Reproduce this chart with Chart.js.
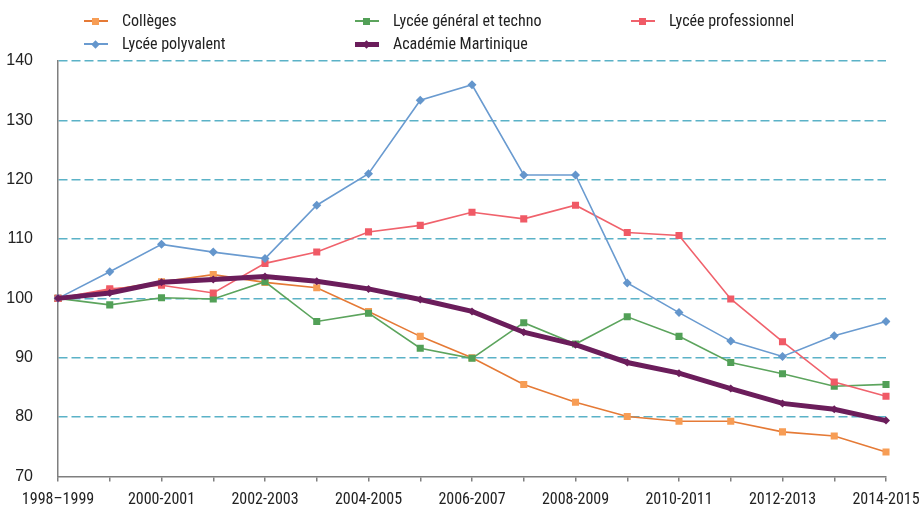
<!DOCTYPE html>
<html>
<head>
<meta charset="utf-8">
<script src="https://cdn.jsdelivr.net/npm/chart.js@4"></script>
<style>
  body { margin: 0; background: #fff; }
  #wrap { position: relative; width: 923px; height: 511px; }
  #legend { position: absolute; left: 0; top: 0; width: 923px; height: 60px;
            font-family: Roboto, sans-serif; font-stretch: condensed; font-size: 16px; color: #222; }
  .item { position: absolute; height: 20px; line-height: 20px; white-space: nowrap; }
  .sym { position: absolute; left: -38px; top: 10px; width: 24px; }
  .mk { position: absolute; left: 8px; }
</style>
</head>
<body>
<div id="wrap">
  <canvas id="chart" width="923" height="511"></canvas>
  <div id="legend"></div>
</div>
<script>
var years = ["1998–1999", "1999-2000", "2000-2001", "2001-2002", "2002-2003", "2003-2004", "2004-2005",
    "2005-2006", "2006-2007", "2007-2008", "2008-2009", "2009-2010", "2010-2011", "2011-2012",
    "2012-2013", "2013-2014", "2014-2015"];

var colleges = [100, 101.4, 102.8, 104.0, 102.7, 101.8, 97.8, 93.6, 90.0, 85.5, 82.5, 80.1, 79.3, 79.3, 77.5, 76.8, 74.1];
var lyceeGeneral = [100, 98.9, 100.1, 99.9, 102.8, 96.1, 97.5, 91.6, 89.9, 95.9, 92.3, 96.9, 93.6, 89.2, 87.3, 85.2, 85.5];
var lyceePro = [100, 101.6, 102.2, 100.9, 105.9, 107.8, 111.2, 112.3, 114.5, 113.4, 115.7, 111.1, 110.6, 99.9, 92.7, 85.9, 83.5];
var lyceePoly = [100, 104.5, 109.1, 107.8, 106.7, 115.7, 121.0, 133.4, 136.0, 120.8, 120.8, 102.6, 97.6, 92.8, 90.2, 93.7, 96.1];
var academie = [100, 100.9, 102.7, 103.2, 103.7, 102.9, 101.6, 99.8, 97.8, 94.3, 92.2, 89.2, 87.4, 84.8, 82.3, 81.3, 79.4];

var series = [
    { label: "Collèges", data: colleges, line: "#e57a36", fill: "#f79d55", style: "rect", r: 5, w: 1.6, order: 4 },
    { label: "Lycée général et techno", data: lyceeGeneral, line: "#5ca45d", fill: "#52a057", style: "rect", r: 5, w: 1.6, order: 3 },
    { label: "Lycée professionnel", data: lyceePro, line: "#f0626c", fill: "#f05a66", style: "rect", r: 5, w: 1.6, order: 2 },
    { label: "Lycée polyvalent", data: lyceePoly, line: "#6a9bd0", fill: "#6496cc", style: "rectRot", r: 4.5, w: 1.6, order: 1 },
    { label: "Académie Martinique", data: academie, line: "#6b1d5b", fill: "#6b1d5b", style: "rectRot", r: 4, w: 5, order: 0 }
];

// legend in the same 3-column grid as the original
var legendPos = [[122, 11], [393, 11], [669, 11], [122, 34], [393, 34]];
var legend = document.getElementById("legend");
series.forEach(function (s, k) {
    var item = document.createElement("div");
    item.className = "item";
    item.style.left = legendPos[k][0] + "px";
    item.style.top = legendPos[k][1] + "px";
    var thick = s.w > 2 ? 5 : 2;
    var sym = document.createElement("div");
    sym.className = "sym";
    sym.style.height = thick + "px";
    sym.style.marginTop = (-thick / 2) + "px";
    sym.style.background = s.line;
    var mk = document.createElement("div");
    mk.className = "mk";
    mk.style.width = "7px";
    mk.style.height = "7px";
    mk.style.top = (thick / 2 - 3.5) + "px";
    mk.style.background = s.fill;
    if (s.style === "rectRot") mk.style.transform = "rotate(45deg) scale(0.85)";
    sym.appendChild(mk);
    item.appendChild(sym);
    item.appendChild(document.createTextNode(s.label));
    legend.appendChild(item);
});

var ctx = document.getElementById("chart").getContext("2d");
new Chart(ctx, {
    type: "line",
    data: {
        labels: years,
        datasets: series.map(function (s) {
            return {
                label: s.label,
                data: s.data,
                borderColor: s.line,
                backgroundColor: s.fill,
                borderWidth: s.w,
                pointStyle: s.style,
                pointRadius: s.r,
                pointBorderWidth: 0,
                pointBackgroundColor: s.fill,
                tension: 0,
                fill: false,
                order: s.order
            };
        })
    },
    options: {
        responsive: false,
        animation: false,
        layout: { padding: { top: 61, right: 37, left: 0, bottom: 0 } },
        plugins: {
            legend: { display: false },
            tooltip: { enabled: false }
        },
        scales: {
            x: {
                offset: false,
                grid: {
                    offset: false,
                    drawOnChartArea: false,
                    drawTicks: true,
                    tickLength: 5,
                    color: "#7f7f7f",
                    lineWidth: 1.5
                },
                border: { color: "#7f7f7f", width: 1.5 },
                ticks: {
                    autoSkip: false,
                    maxRotation: 0,
                    padding: 9,
                    color: "#222",
                    font: { family: "Roboto, sans-serif", weight: "condensed", size: 16 },
                    callback: function (v, i) { return i % 2 === 0 ? years[i] : ""; }
                },
                afterFit: function (scale) {
                    scale.height = 33;
                    scale.paddingLeft = 0;
                    scale.paddingRight = 0;
                }
            },
            y: {
                min: 70,
                max: 140,
                grid: {
                    drawTicks: false,
                    color: function (c) { return c.tick && c.tick.value === 70 ? "rgba(0,0,0,0)" : "#5bb2c7"; },
                    lineWidth: 1.5
                },
                border: { color: "#7f7f7f", width: 1.5, dash: [9, 4] },
                ticks: {
                    stepSize: 10,
                    padding: 25,
                    color: "#222",
                    font: { family: "'Liberation Sans', sans-serif", size: 16 }
                },
                afterFit: function (scale) { scale.width = 58; }
            }
        }
    }
});
</script>
</body>
</html>
